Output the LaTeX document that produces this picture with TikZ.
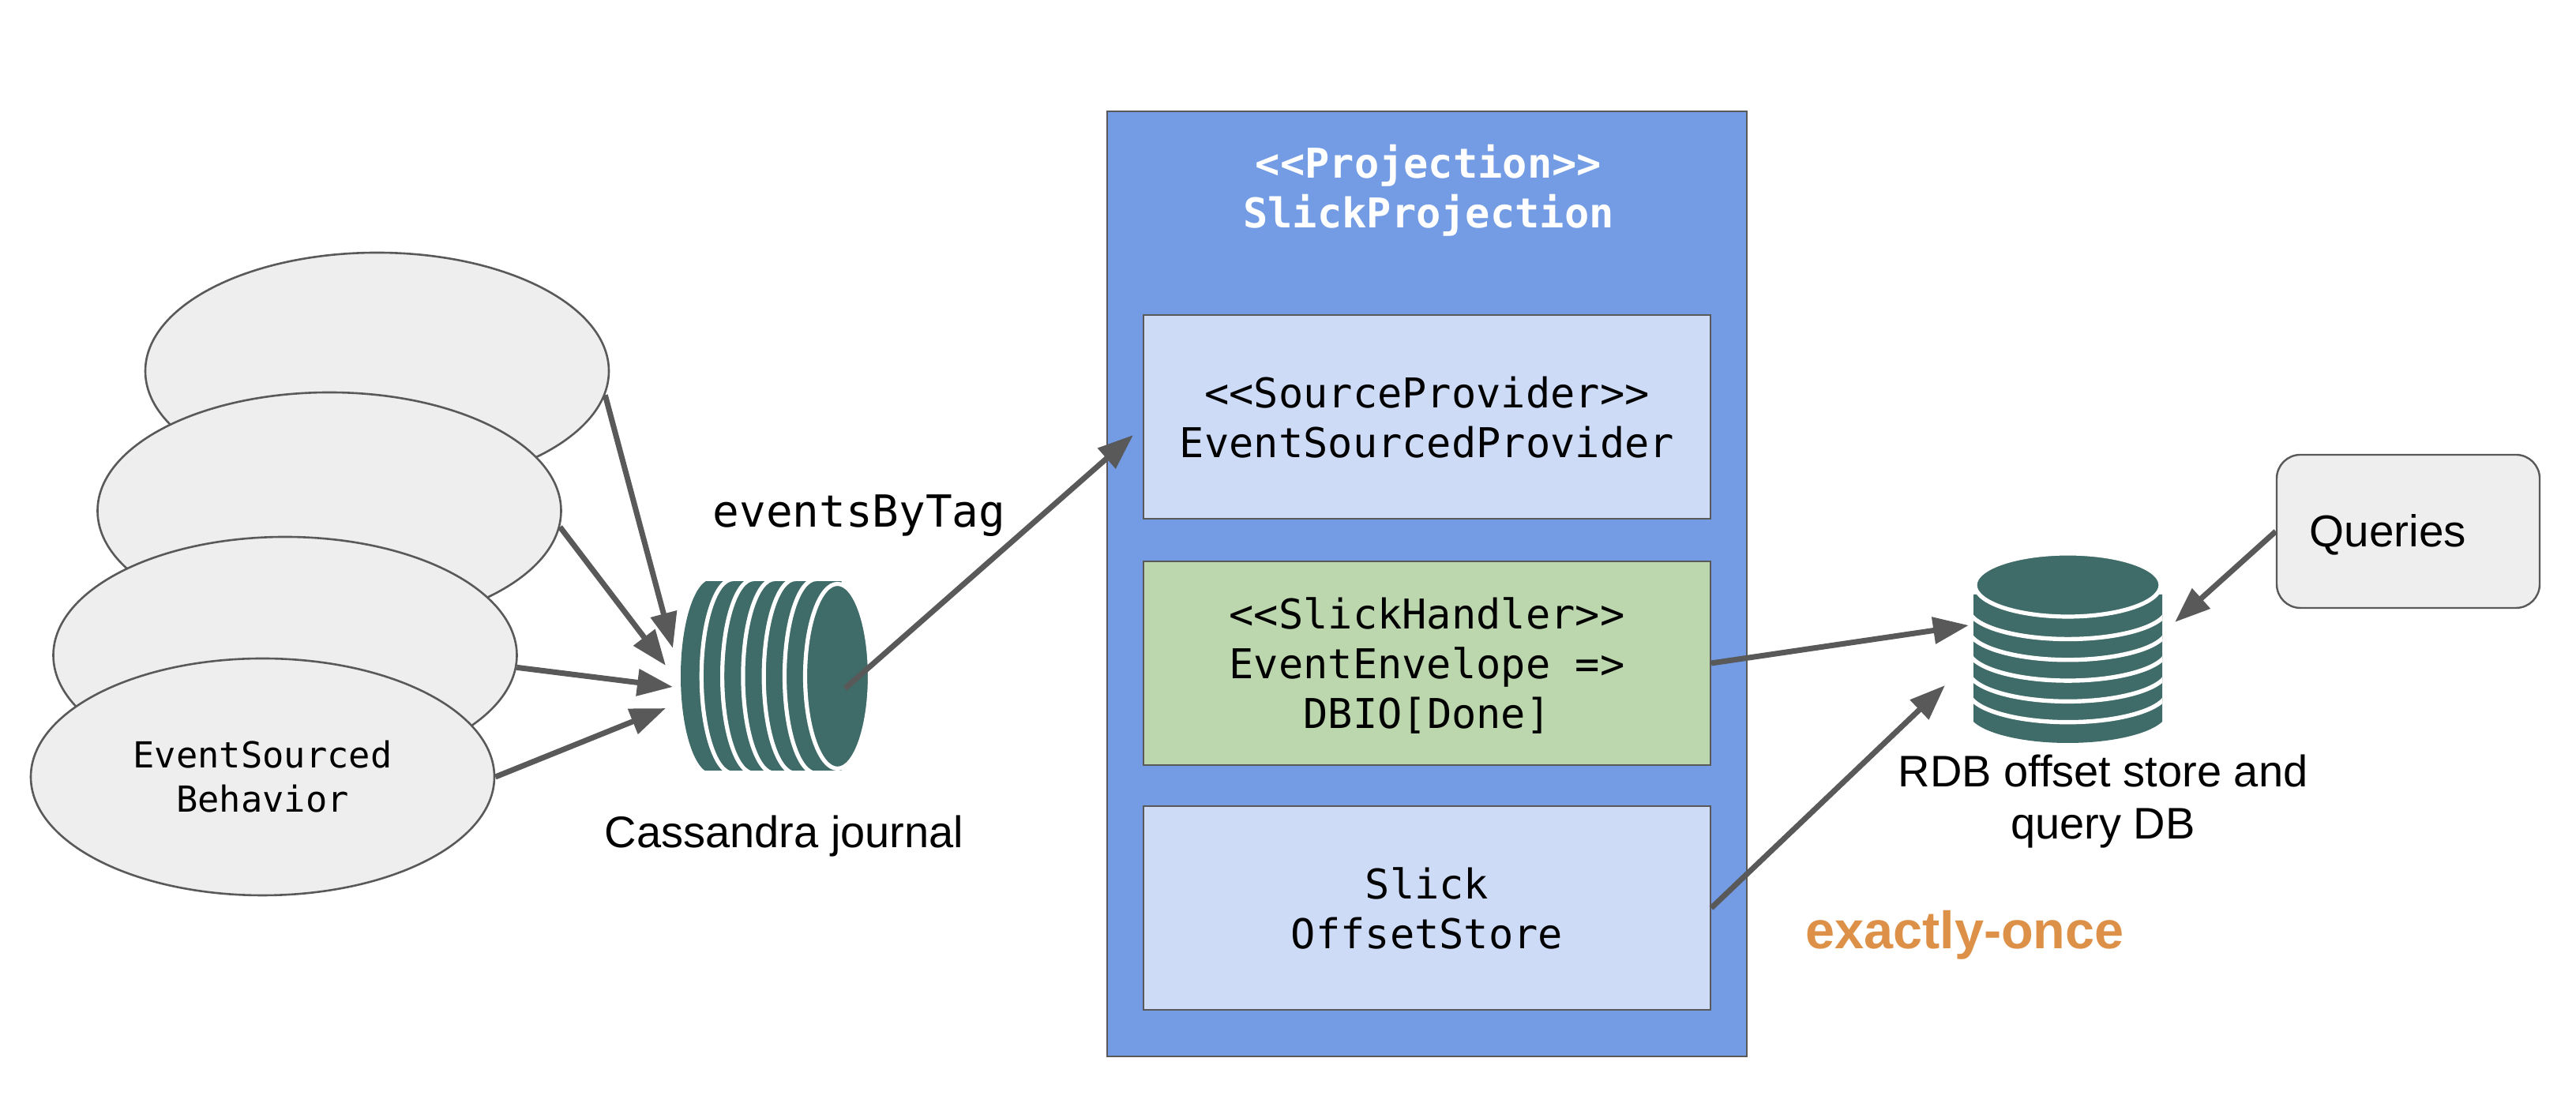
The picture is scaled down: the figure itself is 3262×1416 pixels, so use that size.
\documentclass[tikz,border=0pt]{standalone}
\usepackage{fontspec}
\setmainfont{Liberation Sans}
\setmonofont{DejaVu Sans Mono}
\usetikzlibrary{arrows.meta,shapes.geometric}
\definecolor{lineg}{HTML}{595959}
\definecolor{panelb}{HTML}{739CE5}
\definecolor{lightb}{HTML}{CEDBF6}
\definecolor{greenb}{HTML}{BCD6AD}
\definecolor{ellg}{HTML}{EEEEEE}
\definecolor{teal}{HTML}{3F6B68}
\definecolor{orangeb}{HTML}{DD9148}
\tikzset{
  actor/.style={ellipse,draw=lineg,fill=ellg,line width=1.3pt,minimum width=587*0.5pt,minimum height=150pt,inner sep=0pt,align=center,font=\ttfamily\fontsize{22.7}{28}\selectfont},
  panel/.style={rectangle,draw=lineg,fill=panelb,line width=1pt,minimum width=405pt,minimum height=598.5pt,inner sep=0pt},
  inbox/.style={rectangle,draw=lineg,line width=1pt,minimum width=359pt,minimum height=129pt,inner sep=0pt},
  boxtext/.style={inner sep=0pt,align=center,font=\ttfamily\fontsize{26}{31.5}\selectfont},
  conn/.style={draw=lineg,line width=3.5pt,-{Triangle[length=22.5pt,width=16.5pt]}},
  lab/.style={inner sep=0pt,align=center,font=\fontsize{28}{33}\selectfont},
}
\begin{document}
\begin{tikzpicture}[x=0.5pt,y=0.5pt]
\useasboundingbox (0,0) rectangle (3262,1416);
% actors
\node[actor] (e1) at (477.5,946) {};
\node[actor] (e2) at (417,769) {};
\node[actor] (e3) at (361,586) {};
\node[actor] (e4) at (332.5,432) {EventSourced\\Behavior};
% journal cylinder
\begin{scope}
\clip (855,679) rectangle (1110,440);
\foreach \i in {0,...,5}{
  \pgfmathsetmacro{\cx}{902+26.3*\i}
  \pgfmathsetmacro{\cxr}{\cx+32}
  \fill[teal] (\cx,682.5) arc[start angle=90,end angle=270,x radius=40,y radius=123] -- (\cxr,436.5) -- (\cxr,682.5) -- cycle;
  \ifnum\i>0
  \draw[white,line width=2.6pt] (\cx,682.5) arc[start angle=90,end angle=270,x radius=40,y radius=123];
  \fi
}
\end{scope}
\draw[white,line width=2.6pt,fill=teal] (1060.5,559.5) ellipse[x radius=41,y radius=117];
\coordinate (jout) at (1070,544);
% panel
\node[panel] (pn) at (1807,676.5) {};
\node[boxtext,text=white,font=\ttfamily\bfseries\fontsize{26}{31.5}\selectfont] (pt) at (1809,1175) {<{}<Projection>{}>\\SlickProjection};
\node[inbox,fill=lightb] (sp) at (1807,888) {};
\node[inbox,fill=greenb] (sh) at (1807,576) {};
\node[inbox,fill=lightb] (os) at (1807,266) {};
\node[boxtext] (spt) at (1807,887) {<{}<SourceProvider>{}>\\EventSourcedProvider};
\node[boxtext] (sht) at (1807,573) {<{}<SlickHandler>{}>\\EventEnvelope =>\\DBIO[Done]};
\node[boxtext] (ost) at (1807,266) {Slick\\OffsetStore};
% db cylinder
\begin{scope}
\clip (2499,700) rectangle (2738,470);
\foreach \i in {0,...,5}{
  \pgfmathsetmacro{\cy}{514.5+26.3*\i}
  \pgfmathsetmacro{\cyt}{\cy+17}
  \fill[teal] (2492.5,\cy) arc[start angle=180,end angle=360,x radius=126,y radius=39.5] -- (2744.5,\cyt) -- (2492.5,\cyt) -- cycle;
  \ifnum\i>0
  \draw[white,line width=2.7pt] (2492.5,\cy) arc[start angle=180,end angle=360,x radius=126,y radius=39.5];
  \fi
}
\end{scope}
\draw[white,line width=2.6pt,fill=teal] (2618.5,675) ellipse[x radius=117.5,y radius=40];
% queries
\node[rectangle,rounded corners=15pt,draw=lineg,fill=ellg,line width=1.2pt,minimum width=166.5pt,minimum height=97pt,inner sep=0pt] (q) at (3049.5,743) {};
\node[inner sep=0pt,font=\fontsize{28.3}{34}\selectfont] (qtxt) at (3024,739) {Queries};
% labels
\node[inner sep=0pt,font=\ttfamily\fontsize{28}{33}\selectfont] (ebt) at (1088,763) {eventsByTag};
\node[lab] (cj) at (993,357) {Cassandra journal};
\node[lab] (rdb) at (2663,401) {RDB offset store and\\query DB};
\node[inner sep=0pt,text=orangeb,font=\bfseries\fontsize{33.3}{40}\selectfont] (eo) at (2488,232) {exactly-once};
% connector ends
\coordinate (jt1) at (852,595);
\coordinate (jt2) at (843,573);
\coordinate (jt3) at (852,546);
\coordinate (jt4) at (843,519);
\coordinate (st) at (1435,865);
\coordinate (dt1) at (2493,624);
\coordinate (dt2) at (2463,548);
\coordinate (qt) at (2754,628);
% connectors
\draw[conn] (e1.-6.5) -- (jt1);
\draw[conn] (e2.-4.5) -- (jt2);
\draw[conn] (e3.-3.7) -- (jt3);
\draw[conn] (e4.east) -- (jt4);
\draw[conn] (jout) -- (st);
\draw[conn] (sh.east) -- (dt1);
\draw[conn] (os.east) -- (dt2);
\draw[conn] (q.west) -- (qt);
\end{tikzpicture}
\end{document}
